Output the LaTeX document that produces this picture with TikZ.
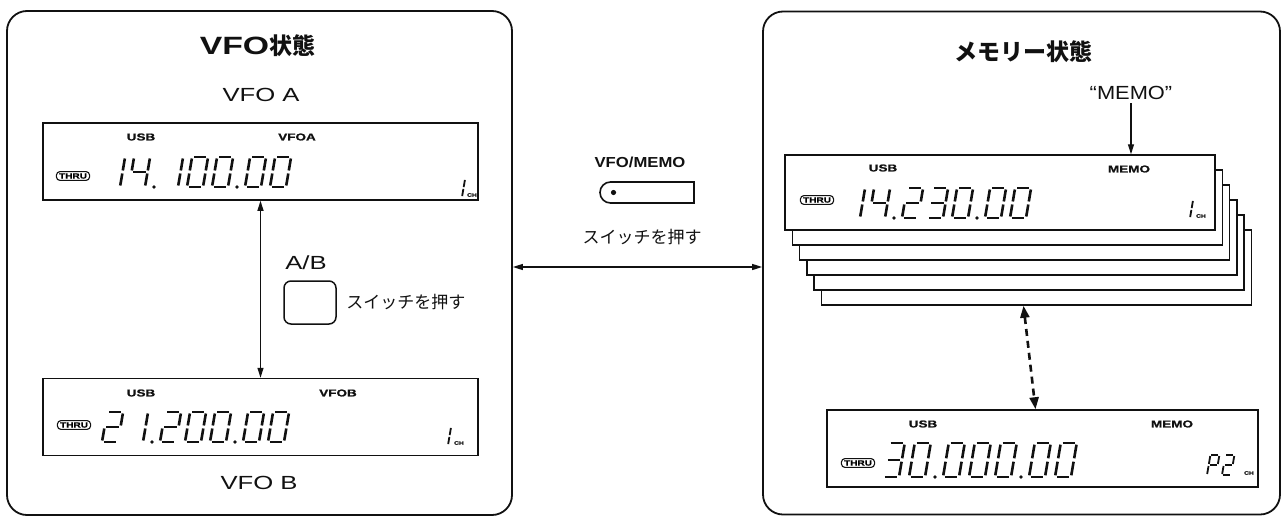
\documentclass[tikz,border=0pt]{standalone}
\usepackage{fontspec}
\setmainfont{Liberation Sans}
\newfontfamily\widesans[FakeStretch=1.35]{Liberation Sans}
\newfontfamily\tagsans[FakeStretch=1.35,FakeBold=1.2]{Liberation Sans Bold}
\newfontfamily\midsans[FakeStretch=1.15]{Liberation Sans}
\newfontfamily\jpsans{Noto Sans CJK JP}
\usetikzlibrary{arrows.meta,positioning}
\definecolor{lcdink}{HTML}{111111}
\newcommand\fsz[1]{\fontsize{#1}{#1}\selectfont}
\tikzstyle{panel}=[draw=lcdink,line width=1.8pt,rounded corners=20pt,inner sep=0pt]
\tikzstyle{lcdbox}=[draw=lcdink,fill=white,line width=1.5pt,minimum width=435pt,minimum height=77pt,inner sep=0pt]
\tikzstyle{lcdtag}=[font=\tagsans\fsz{10},text=lcdink,inner sep=0pt]
\tikzstyle{thrubadge}=[draw=lcdink,line width=1.1pt,rounded corners=3.5pt,inner xsep=2.5pt,inner ysep=1.8pt,font=\tagsans\fsz{7.5}]
\tikzstyle{chtag}=[font=\tagsans\fsz{5},text=lcdink,inner sep=0pt]
\tikzstyle{lcdcaption}=[font=\widesans\fsz{19},text=lcdink]
\tikzstyle{jptext}=[font=\jpsans\fsz{17},text=lcdink]
\tikzstyle{lcdseg}=[draw=lcdink,line cap=butt]
\tikzstyle{dblarrow}=[{Triangle[length=10pt,width=6pt]}-{Triangle[length=10pt,width=6pt]},line width=1.3pt,draw=lcdink]
% seven segment cells: origin at bottom left, top at y=-2
\newcommand\defseg[2]{\expandafter\def\csname seg@#1\endcsname{#2}}
\newcommand\defdigit[2]{\expandafter\def\csname lcd@#1\endcsname{#2}}
\defseg{a}{(0.12,-2)--(0.88,-2)}
\defseg{b}{(1,-1.9)--(1,-1.1)}
\defseg{c}{(1,-0.9)--(1,-0.1)}
\defseg{d}{(0.12,0)--(0.88,0)}
\defseg{e}{(0,-0.9)--(0,-0.1)}
\defseg{f}{(0,-1.9)--(0,-1.1)}
\defseg{g}{(0.12,-1)--(0.88,-1)}
\defdigit{0}{a,b,c,d,e,f}
\defdigit{1}{b,c}
\defdigit{2}{a,b,g,e,d}
\defdigit{3}{a,b,g,c,d}
\defdigit{4}{f,g,b,c}
\defdigit{P}{a,b,f,g,e}
\tikzset{lcd/.pic={%
  \expandafter\let\expandafter\seglist\csname lcd@#1\endcsname
  \foreach \seg in \seglist {\edef\segpath{\csname seg@\seg\endcsname}\draw[lcdseg] \segpath;}}}
\newcommand\lcdnumber[5]{%
  \xdef\lcdx{#1}%
  \foreach \lcdch in {#5}{%
    \if.\lcdch
      \fill[lcdink] (\lcdx,#2) circle (1.9pt);
      \pgfmathsetmacro\lcdnext{\lcdx+8}%
    \else
      \pic[xslant=0.17,xscale=16,yscale=#3/2,line width=2.6pt] at (\lcdx,#2) {lcd=\lcdch};
      \pgfmathsetmacro\lcdnext{\lcdx+#4}%
    \fi
    \xdef\lcdx{\lcdnext}}}

\begin{document}
\begin{tikzpicture}[x=1pt,y=-1pt]
  \useasboundingbox (0,0) rectangle (1286,517);
  % VFO side
  \node[panel,minimum width=505pt,minimum height=504pt] (vfopanel) at (259.5,263) {};
  \node[font=\bfseries,text=lcdink] (vfotitle) at (257.5,46) {{\widesans\fsz{25}VFO}{\jpsans\fsz{23}状態}};
  \node[lcdcaption] (vfoacap) at (261,95) {VFO A};
  \node[lcdbox] (vfoa) at (260.5,161.5) {};
  \node[lcdtag] (vfoausb) at (141,137) {USB};
  \node[lcdtag] (vfoatag) at (297,137) {VFOA};
  \node[thrubadge] (vfoathru) at (73,176) {THRU};
  \lcdnumber{104}{187}{30}{25}{1,4,.,1,0,0,.,0,0}
  \pic[xslant=0.17,xscale=6,yscale=9,line width=1.8pt] at (456,197) {lcd=1};
  \node[chtag] (vfoach) at (472,195) {CH};
  \node[lcdbox] (vfob) at (260.5,417) {};
  \node[lcdtag] (vfobusb) at (141,393) {USB};
  \node[lcdtag] (vfobtag) at (338,393) {VFOB};
  \node[thrubadge] (vfobthru) at (74,425) {THRU};
  \lcdnumber{102}{442}{30}{25}{2,1,.,2,0,0,.,0,0}
  \pic[xslant=0.17,xscale=6,yscale=9,line width=1.8pt] at (442,445) {lcd=1};
  \node[chtag] (vfobch) at (459,443) {CH};
  \node[lcdcaption] (vfobcap) at (259,483) {VFO B};
  \draw[dblarrow] (vfoa.south) -- (vfob.north);
  \node[lcdcaption] (abcap) at (306,263) {A/B};
  \node[draw=lcdink,line width=1.5pt,rounded corners=7pt,minimum width=52pt,minimum height=43pt] (abkey) at (310,302.5) {};
  \node[jptext,right=6pt of abkey] (abpush) {スイッチを押す};
  % switch between the two states
  \node[font=\midsans\bfseries\fsz{14.5},text=lcdink] (vfomemo) at (640,162) {VFO/MEMO};
  \draw[lcdink,line width=1.6pt] (694,182) -- (610.5,182) arc[start angle=90,end angle=270,radius=10.5pt] -- (694,203) -- cycle;
  \fill[lcdink] (613.5,192.5) circle (2.6pt);
  \node[jptext] (mempush) at (642,237) {スイッチを押す};
  % memory side
  \node[panel,minimum width=517pt,minimum height=503pt] (mempanel) at (1021.5,263) {};
  \draw[dblarrow] ([yshift=-4pt]vfopanel.east) -- ([yshift=-4pt]mempanel.west);
  \node[font=\jpsans\bfseries\fsz{23},text=lcdink] (memtitle) at (1023.5,52) {メモリー状態};
  \node[font=\midsans\fsz{19},text=lcdink] (memoquote) at (1131,93) {“MEMO”};
  \foreach \k in {5,4,...,1}
    \node[lcdbox,minimum width=430pt,minimum height=75pt] (stack\k) at (1000+7.3*\k,192.5+15*\k) {};
  \node[lcdbox,minimum width=430pt,minimum height=75pt] (mema) at (1000,192.5) {};
  \draw[lcdink,line width=1.2pt,-{Triangle[length=10pt,width=6pt]}] (memoquote.south) -- (memoquote.south |- mema.north);
  \node[lcdtag] (memausb) at (883,168) {USB};
  \node[lcdtag] (mematag) at (1129,169) {MEMO};
  \node[thrubadge] (memathru) at (817,200) {THRU};
  \lcdnumber{844}{218}{30}{25}{1,4,.,2,3,0,.,0,0}
  \pic[xslant=0.17,xscale=6,yscale=9,line width=1.8pt] at (1184,218) {lcd=1};
  \node[chtag] (memach) at (1201,216) {CH};
  \node[lcdbox,minimum width=431pt,minimum height=77pt] (memb) at (1042.5,448.5) {};
  \node[lcdtag] (membusb) at (923,424) {USB};
  \node[lcdtag] (membtag) at (1172,424) {MEMO};
  \node[thrubadge] (membthru) at (858,463) {THRU};
  \lcdnumber{883}{477}{34}{26}{3,0,.,0,0,0,.,0,0}
  \pic[xslant=0.17,xscale=9,yscale=10,line width=1.8pt] at (1207,475) {lcd=P};
  \pic[xslant=0.17,xscale=9,yscale=10,line width=1.8pt] at (1222,475) {lcd=2};
  \node[chtag] (membch) at (1249,473) {CH};
  \draw[dblarrow,line width=2.6pt,dash pattern=on 7pt off 5pt,{Triangle[length=12pt,width=9pt]}-{Triangle[length=12pt,width=9pt]}] ([xshift=-13pt]stack5.south) -- ([xshift=-7pt]memb.north);
\end{tikzpicture}
\end{document}
